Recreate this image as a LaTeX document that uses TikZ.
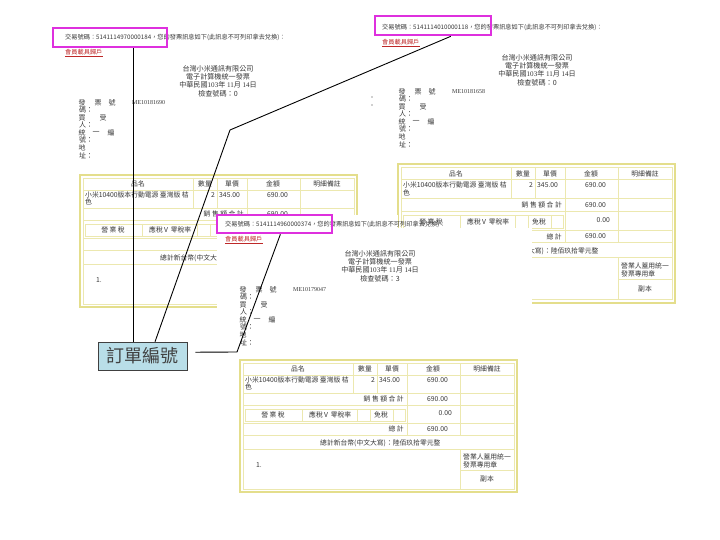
\documentclass[tikz,border=0pt]{standalone}
\usepackage{fontspec}
\setmainfont{Noto Sans CJK TC}
\newfontfamily\serifnum{Liberation Serif}
\usetikzlibrary{calc}
\definecolor{magb}{RGB}{222,48,222}
\definecolor{tbout}{RGB}{228,222,140}
\definecolor{tbinc}{RGB}{236,232,175}
\definecolor{txc}{RGB}{55,55,55}
\definecolor{redl}{RGB}{190,40,40}
\definecolor{callfill}{RGB}{185,222,232}
\tikzset{
 sm/.style={inner sep=0pt, font=\fontsize{6.2}{7}\selectfont, text=txc},
 tb/.style={inner sep=0pt, font=\fontsize{6.8}{7}\selectfont, text=txc},
 hd/.style={inner sep=0pt, font=\fontsize{7.1}{8}\selectfont, text=txc},
 lb/.style={inner sep=0pt, font=\fontsize{7}{8}\selectfont, text=txc},
 mg/.style={draw=magb, line width=2.6pt, inner sep=0pt},
 tout/.style={draw=tbout, line width=2.2pt},
 tin/.style={draw=tbinc, line width=0.7pt},
 conn/.style={draw=black, line width=0.9pt},
 callbox/.style={draw=black!75, line width=0.7pt, fill=callfill, minimum width=89pt, minimum height=28pt, inner sep=0pt, font=\fontsize{18}{20}\selectfont, text=black!75},
}
% texts hidden behind an overlapping page are left out
\newcommand\shw[3]{\ifcsname hide@#1@#2\endcsname\else#3\fi}
\newcommand\hidenode[2]{\expandafter\def\csname hide@#1@#2\endcsname{}}
\newcommand\cone[1]{\ifcsname short@#1\endcsname 總計新台幣(中文大寫)\else 總計新台幣(中文大寫)：陸佰玖拾零元整\fi}
% invoice table grid, relative coordinates
\newcommand{\invgrid}{%
 \fill[white] (0,0) rectangle (277,132);
 \draw[tout] (0,0) rectangle (277,132);
 \draw[tin] (3,3) rectangle (274,129);
 \foreach \yy in {15,33,45,63,75,89} \draw[tin] (3,\yy) -- (274,\yy);
 \foreach \xx in {113,137} \draw[tin] (\xx,3) -- (\xx,33);
 \draw[tin] (167,3) -- (167,75);
 \draw[tin] (220,3) -- (220,75);
 \draw[tin] (220,89) -- (220,129);
 \draw[tin] (220,110) -- (274,110);
 \draw[tin] (5,49) rectangle (165,61);
 \foreach \xx in {62,117,130,153} \draw[tin] (\xx,49) -- (\xx,61);
}
\newcommand{\taxtext}[1]{%
 \node[tb] (#1-x1) at (33,55) {\shw{#1}{x1}{營 業 稅}};
 \node[tb] (#1-x2) at (76,55) {\shw{#1}{x2}{應稅}};
 \node[tb] (#1-x3) at (86,55) {\shw{#1}{x3}{V}};
 \node[tb] (#1-x4) at (101,55) {\shw{#1}{x4}{零稅率}};
}
\newcommand{\invtext}[1]{%
 \node[tb] (#1-h1) at (58,9) {品名};
 \node[tb] (#1-h2) at (125,9) {數量};
 \node[tb] (#1-h3) at (152,9) {單價};
 \node[tb] (#1-h4) at (193,9) {金額};
 \node[tb] (#1-h5) at (247,9) {明細備註};
 \node[tb,anchor=west] (#1-i1) at (5,20) {小米10400版本行動電源 臺灣版 桔};
 \node[tb,anchor=west] (#1-i2) at (5,27) {色};
 \node[tb,anchor=east] (#1-i3) at (135,20) {2};
 \node[tb,anchor=west] (#1-i4) at (139,20) {345.00};
 \node[tb,anchor=east] (#1-i5) at (208,20) {690.00};
 \node[tb,anchor=east] (#1-s1) at (164,39) {銷 售 額 合 計};
 \node[tb,anchor=east] (#1-s2) at (208,39) {690.00};
 \taxtext{#1}
 \node[tb] (#1-x5) at (141,55) {\shw{#1}{x5}{免稅}};
 \node[tb,anchor=east] (#1-x6) at (212,53) {\shw{#1}{x6}{0.00}};
 \node[tb,anchor=east] (#1-g1) at (164,69) {\shw{#1}{g1}{總 計}};
 \node[tb,anchor=east] (#1-g2) at (208,69) {\shw{#1}{g2}{690.00}};
 \node[tb,anchor=west] (#1-c1) at (80,83) {\cone{#1}};
 \node[tb,anchor=west] (#1-n1) at (16,105) {\shw{#1}{n1}{1.}};
 \node[tb,anchor=west] (#1-r1) at (223,97) {\shw{#1}{r1}{營業人蓋用統一}};
 \node[tb,anchor=west] (#1-r2) at (223,104.5) {\shw{#1}{r2}{發票專用章}};
 \node[tb] (#1-r3) at (247,119) {\shw{#1}{r3}{副本}};
}
% label block
\newcommand{\lbls}[4]{%
 \begin{scope}[shift={(#2,#3)}]
 \node[lb] (#1-a1) at (3,0) {發}; \node[lb] (#1-a2) at (19,0) {票}; \node[lb] (#1-a3) at (33,0) {號};
 \node[lb,anchor=west] (#1-a4) at (0,7.3) {碼：};
 \node[lb] (#1-a5) at (3,15) {買}; \node[lb] (#1-a6) at (24,15) {受};
 \node[lb,anchor=west] (#1-a7) at (0,22.3) {人：};
 \node[lb] (#1-a8) at (3,30) {統}; \node[lb] (#1-a9) at (17,30) {一}; \node[lb] (#1-a10) at (32,30) {編};
 \node[lb,anchor=west] (#1-a11) at (0,37.3) {號：};
 \node[lb] (#1-a12) at (3,45) {地};
 \node[lb,anchor=west] (#1-a13) at (0,52.3) {址：};
 \node[lb,anchor=west,font=\serifnum\fontsize{6}{7}\selectfont] (#1-me) at (53,0) {#4};
 \end{scope}}
% company header
\newcommand{\hdr}[4]{%
 \node[hd] (#1-co1) at (#2,#3) {台灣小米通訊有限公司};
 \node[hd] (#1-co2) at ($(#1-co1)+(0,8)$) {電子計算機統一發票};
 \node[hd] (#1-co3) at ($(#1-co1)+(0,16)$) {中華民國{\serifnum 103}年 {\serifnum 11}月 {\serifnum 14}日};
 \node[hd] (#1-co4) at ($(#1-co1)+(0,25)$) {檢查號碼：#4};
}
% transaction line
\newcommand{\topl}[4]{%
 \node[sm,anchor=west] (#1-tx) at (#2,#3) {交易號碼：#4，您的發票訊息如下(此訊息不可列印拿去兌換)：};
 \node[sm,anchor=west,text=redl] (#1-mem) at ($(#1-tx.west)+(0,15)$) {會員載具歸戶};
 \draw[redl, line width=0.4pt] ($(#1-mem.south west)+(0,0.8)$) -- ($(#1-mem.south east)+(0,0.8)$);
}
% hidden parts of tables 1 and 2
\hidenode{t1}{x5}\hidenode{t1}{x6}\hidenode{t1}{g1}\hidenode{t1}{g2}
\hidenode{t1}{r1}\hidenode{t1}{r2}\hidenode{t1}{r3}
\expandafter\def\csname short@t1\endcsname{}
\hidenode{t2}{x1}\hidenode{t2}{x2}\hidenode{t2}{x3}\hidenode{t2}{x4}\hidenode{t2}{n1}
\begin{document}
\begin{tikzpicture}[x=1pt,y=-1pt]
\fill[white] (0,0) rectangle (720,540);
\useasboundingbox (0,0) rectangle (720,540);

% ---------- document 1 ----------
\topl{d1}{65}{37}{5141114970000184}
\node[mg, minimum width=114pt, minimum height=19pt] (m1) at (110,37.5) {};
\hdr{d1}{218}{69}{0}
\lbls{d1}{79}{103}{ME10181690}
\begin{scope}[shift={(80,175)}] \invgrid \invtext{t1} \end{scope}

% ---------- document 2 ----------
\topl{d2}{382}{27}{5141114010000118}
\node[mg, minimum width=116pt, minimum height=19pt] (m2) at (433,25.5) {};
\hdr{d2}{537}{58}{0}
\lbls{d2}{399}{92}{ME10181658}
\fill[txc] (372,97) circle (0.7pt);
\fill[txc] (372,105) circle (0.7pt);
\begin{scope}[shift={(398,164)}, yscale=1.05] \invgrid \invtext{t2} \end{scope}

% ---------- document 3 ----------
\fill[white] (217,215) rectangle (532,505);
\begin{scope}
 \clip (398,215) rectangle (532,228);
 \begin{scope}[shift={(398,164)}, yscale=1.05] \invgrid \end{scope}
\end{scope}
\begin{scope}[shift={(398,164)}, yscale=1.05] \taxtext{t2b} \end{scope}
\topl{d3}{225}{224}{5141114960000374}
\node[mg, minimum width=115pt, minimum height=18pt] (m3) at (274.5,224) {};
\hdr{d3}{380}{254}{3}
\lbls{d3}{240}{290}{ME10179047}
\begin{scope}[shift={(240,360)}] \invgrid \invtext{t3} \end{scope}

% ---------- callout ----------
\node[callbox] (callout) at (142.5,356) {訂單編號};
\coordinate (b2) at (230,130);
\coordinate (b3) at (237,352);
\draw[conn] ($(m1.south west)!0.70!(m1.south east)$) coordinate (c1) -- (c1 |- callout.north);
\draw[conn] ($(m2.south west)!0.65!(m2.south east)$) -- (b2) -- ($(callout.north west)!0.64!(callout.north east)$);
\draw[conn, shorten <=8pt] ($(callout.north east)!0.37!(callout.south east)$) -- (b3) -- ($(m3.south west)!0.55!(m3.south east)$);
\end{tikzpicture}
\end{document}
